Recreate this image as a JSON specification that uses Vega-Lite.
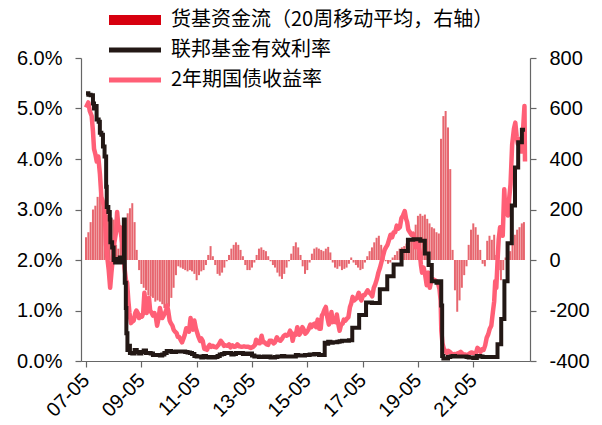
{
  "$schema": "https://vega.github.io/schema/vega-lite/v6.json",
  "width": 449,
  "height": 303,
  "autosize": {"type": "none"},
  "padding": {"left": 81, "top": 58, "right": 72, "bottom": 64},
  "background": "white",
  "config": {
    "view": {"stroke": null},
    "font": "Liberation Sans",
    "axis": {
      "grid": false,
      "title": null,
      "labelFont": "Liberation Sans",
      "labelFontSize": 20,
      "labelColor": "#000000",
      "domainColor": "#666666",
      "tickColor": "#666666",
      "domainWidth": 1.2,
      "tickWidth": 1.2,
      "tickSize": 6,
      "labelFlush": false,
      "labelOverlap": false,
      "labelBound": false
    }
  },
  "datasets": {
    "flow": [
      {"d": "2007-05-01", "v": 90}, {"d": "2007-06-01", "v": 110}, {"d": "2007-07-01", "v": 150}, {"d": "2007-08-01", "v": 200},
      {"d": "2007-09-01", "v": 215}, {"d": "2007-10-01", "v": 250}, {"d": "2007-11-01", "v": 262}, {"d": "2007-12-01", "v": 230},
      {"d": "2008-01-01", "v": 200}, {"d": "2008-02-01", "v": 180}, {"d": "2008-03-01", "v": 190}, {"d": "2008-04-01", "v": 165},
      {"d": "2008-05-01", "v": 160}, {"d": "2008-06-01", "v": 60}, {"d": "2008-07-01", "v": 45}, {"d": "2008-08-01", "v": 85},
      {"d": "2008-09-01", "v": 90}, {"d": "2008-10-01", "v": 160}, {"d": "2008-11-01", "v": 185}, {"d": "2008-12-01", "v": 205},
      {"d": "2009-01-01", "v": 225}, {"d": "2009-02-01", "v": 150}, {"d": "2009-03-01", "v": 40}, {"d": "2009-04-01", "v": -40},
      {"d": "2009-05-01", "v": -95}, {"d": "2009-06-01", "v": -110}, {"d": "2009-07-01", "v": -120}, {"d": "2009-08-01", "v": -140},
      {"d": "2009-09-01", "v": -145}, {"d": "2009-10-01", "v": -150}, {"d": "2009-11-01", "v": -165}, {"d": "2009-12-01", "v": -160},
      {"d": "2010-01-01", "v": -165}, {"d": "2010-02-01", "v": -175}, {"d": "2010-03-01", "v": -190}, {"d": "2010-04-01", "v": -200},
      {"d": "2010-05-01", "v": -185}, {"d": "2010-06-01", "v": -150}, {"d": "2010-07-01", "v": -110}, {"d": "2010-08-01", "v": -60},
      {"d": "2010-09-01", "v": -25}, {"d": "2010-10-01", "v": -30}, {"d": "2010-11-01", "v": -35}, {"d": "2010-12-01", "v": -40},
      {"d": "2011-01-01", "v": -45}, {"d": "2011-02-01", "v": -40}, {"d": "2011-03-01", "v": -45}, {"d": "2011-04-01", "v": -55},
      {"d": "2011-05-01", "v": -80}, {"d": "2011-06-01", "v": -60}, {"d": "2011-07-01", "v": -45}, {"d": "2011-08-01", "v": -40},
      {"d": "2011-09-01", "v": -20}, {"d": "2011-10-01", "v": 20}, {"d": "2011-11-01", "v": 55}, {"d": "2011-12-01", "v": 15},
      {"d": "2012-01-01", "v": -20}, {"d": "2012-02-01", "v": -55}, {"d": "2012-03-01", "v": -62}, {"d": "2012-04-01", "v": -50},
      {"d": "2012-05-01", "v": -30}, {"d": "2012-06-01", "v": -5}, {"d": "2012-07-01", "v": 20}, {"d": "2012-08-01", "v": 45},
      {"d": "2012-09-01", "v": 60}, {"d": "2012-10-01", "v": 70}, {"d": "2012-11-01", "v": 60}, {"d": "2012-12-01", "v": 40},
      {"d": "2013-01-01", "v": 15}, {"d": "2013-02-01", "v": -20}, {"d": "2013-03-01", "v": -40}, {"d": "2013-04-01", "v": -40},
      {"d": "2013-05-01", "v": -30}, {"d": "2013-06-01", "v": -10}, {"d": "2013-07-01", "v": 20}, {"d": "2013-08-01", "v": 45},
      {"d": "2013-09-01", "v": 50}, {"d": "2013-10-01", "v": 40}, {"d": "2013-11-01", "v": 35}, {"d": "2013-12-01", "v": 15},
      {"d": "2014-01-01", "v": -5}, {"d": "2014-02-01", "v": -20}, {"d": "2014-03-01", "v": -30}, {"d": "2014-04-01", "v": -50},
      {"d": "2014-05-01", "v": -65}, {"d": "2014-06-01", "v": -75}, {"d": "2014-07-01", "v": -55}, {"d": "2014-08-01", "v": -30},
      {"d": "2014-09-01", "v": -5}, {"d": "2014-10-01", "v": 25}, {"d": "2014-11-01", "v": 55}, {"d": "2014-12-01", "v": 70},
      {"d": "2015-01-01", "v": 50}, {"d": "2015-02-01", "v": 20}, {"d": "2015-03-01", "v": -25}, {"d": "2015-04-01", "v": -55},
      {"d": "2015-05-01", "v": -40}, {"d": "2015-06-01", "v": -10}, {"d": "2015-07-01", "v": 25}, {"d": "2015-08-01", "v": 45},
      {"d": "2015-09-01", "v": 50}, {"d": "2015-10-01", "v": 45}, {"d": "2015-11-01", "v": 40}, {"d": "2015-12-01", "v": 35},
      {"d": "2016-01-01", "v": 45}, {"d": "2016-02-01", "v": 52}, {"d": "2016-03-01", "v": 30}, {"d": "2016-04-01", "v": -10},
      {"d": "2016-05-01", "v": -30}, {"d": "2016-06-01", "v": -35}, {"d": "2016-07-01", "v": -25}, {"d": "2016-08-01", "v": -40},
      {"d": "2016-09-01", "v": -35}, {"d": "2016-10-01", "v": -30}, {"d": "2016-11-01", "v": -15}, {"d": "2016-12-01", "v": 10},
      {"d": "2017-01-01", "v": -10}, {"d": "2017-02-01", "v": -20}, {"d": "2017-03-01", "v": -30}, {"d": "2017-04-01", "v": -40},
      {"d": "2017-05-01", "v": -35}, {"d": "2017-06-01", "v": -10}, {"d": "2017-07-01", "v": 15}, {"d": "2017-08-01", "v": 35},
      {"d": "2017-09-01", "v": 50}, {"d": "2017-10-01", "v": 70}, {"d": "2017-11-01", "v": 88}, {"d": "2017-12-01", "v": 96},
      {"d": "2018-01-01", "v": 60}, {"d": "2018-02-01", "v": 20}, {"d": "2018-03-01", "v": -5}, {"d": "2018-04-01", "v": -15},
      {"d": "2018-05-01", "v": -10}, {"d": "2018-06-01", "v": 10}, {"d": "2018-07-01", "v": 20}, {"d": "2018-08-01", "v": 35},
      {"d": "2018-09-01", "v": 45}, {"d": "2018-10-01", "v": 50}, {"d": "2018-11-01", "v": 55}, {"d": "2018-12-01", "v": 65},
      {"d": "2019-01-01", "v": 70}, {"d": "2019-02-01", "v": 80}, {"d": "2019-03-01", "v": 95}, {"d": "2019-04-01", "v": 140},
      {"d": "2019-05-01", "v": 175}, {"d": "2019-06-01", "v": 183}, {"d": "2019-07-01", "v": 175}, {"d": "2019-08-01", "v": 180},
      {"d": "2019-09-01", "v": 163}, {"d": "2019-10-01", "v": 145}, {"d": "2019-11-01", "v": 130}, {"d": "2019-12-01", "v": 125},
      {"d": "2020-01-01", "v": 110}, {"d": "2020-02-01", "v": 105}, {"d": "2020-03-01", "v": 480}, {"d": "2020-04-01", "v": 570},
      {"d": "2020-05-01", "v": 590}, {"d": "2020-06-01", "v": 525}, {"d": "2020-07-01", "v": 360}, {"d": "2020-08-01", "v": 40},
      {"d": "2020-09-01", "v": -120}, {"d": "2020-10-01", "v": -205}, {"d": "2020-11-01", "v": -160}, {"d": "2020-12-01", "v": -110},
      {"d": "2021-01-01", "v": -60}, {"d": "2021-02-01", "v": -25}, {"d": "2021-03-01", "v": 60}, {"d": "2021-04-01", "v": 120},
      {"d": "2021-05-01", "v": 145}, {"d": "2021-06-01", "v": 130}, {"d": "2021-07-01", "v": 100}, {"d": "2021-08-01", "v": 40},
      {"d": "2021-09-01", "v": -15}, {"d": "2021-10-01", "v": -25}, {"d": "2021-11-01", "v": 76}, {"d": "2021-12-01", "v": 96},
      {"d": "2022-01-01", "v": 80}, {"d": "2022-02-01", "v": 100}, {"d": "2022-03-01", "v": 20}, {"d": "2022-04-01", "v": -40},
      {"d": "2022-05-01", "v": -80}, {"d": "2022-06-01", "v": -40}, {"d": "2022-07-01", "v": 10}, {"d": "2022-08-01", "v": 50},
      {"d": "2022-09-01", "v": 35}, {"d": "2022-10-01", "v": 60}, {"d": "2022-11-01", "v": 100}, {"d": "2022-12-01", "v": 120},
      {"d": "2023-01-01", "v": 130}, {"d": "2023-02-01", "v": 145}, {"d": "2023-03-01", "v": 150}
    ],
    "ff": [
      {"d": "2007-05-01", "r": 5.30}, {"d": "2007-06-01", "r": 5.27}, {"d": "2007-07-01", "r": 5.26}, {"d": "2007-08-01", "r": 5.10},
      {"d": "2007-08-15", "r": 5.00}, {"d": "2007-09-01", "r": 5.05}, {"d": "2007-09-18", "r": 4.78}, {"d": "2007-10-15", "r": 4.74},
      {"d": "2007-10-31", "r": 4.52}, {"d": "2007-11-20", "r": 4.48}, {"d": "2007-12-11", "r": 4.25}, {"d": "2008-01-01", "r": 4.05},
      {"d": "2008-01-22", "r": 3.45}, {"d": "2008-01-30", "r": 3.05}, {"d": "2008-02-20", "r": 2.95}, {"d": "2008-03-10", "r": 2.80},
      {"d": "2008-03-18", "r": 2.35}, {"d": "2008-04-10", "r": 2.25}, {"d": "2008-04-30", "r": 2.00}, {"d": "2008-05-20", "r": 1.95},
      {"d": "2008-06-10", "r": 2.02}, {"d": "2008-07-01", "r": 1.95}, {"d": "2008-07-20", "r": 2.05}, {"d": "2008-08-10", "r": 1.95},
      {"d": "2008-09-01", "r": 2.02}, {"d": "2008-09-12", "r": 2.80}, {"d": "2008-09-24", "r": 1.55}, {"d": "2008-10-08", "r": 1.05},
      {"d": "2008-10-15", "r": 0.55}, {"d": "2008-10-29", "r": 0.22}, {"d": "2008-11-15", "r": 0.30}, {"d": "2008-12-01", "r": 0.16},
      {"d": "2009-01-01", "r": 0.15}, {"d": "2009-02-01", "r": 0.22}, {"d": "2009-03-01", "r": 0.18}, {"d": "2009-04-01", "r": 0.15},
      {"d": "2009-05-01", "r": 0.18}, {"d": "2009-06-01", "r": 0.21}, {"d": "2009-07-01", "r": 0.16}, {"d": "2009-08-01", "r": 0.16},
      {"d": "2009-09-01", "r": 0.15}, {"d": "2009-10-01", "r": 0.12}, {"d": "2009-11-01", "r": 0.12}, {"d": "2009-12-01", "r": 0.12},
      {"d": "2010-01-01", "r": 0.11}, {"d": "2010-02-01", "r": 0.13}, {"d": "2010-03-01", "r": 0.16}, {"d": "2010-04-01", "r": 0.20},
      {"d": "2010-05-01", "r": 0.20}, {"d": "2010-06-01", "r": 0.18}, {"d": "2010-07-01", "r": 0.18}, {"d": "2010-08-01", "r": 0.19},
      {"d": "2010-09-01", "r": 0.19}, {"d": "2010-10-01", "r": 0.19}, {"d": "2010-11-01", "r": 0.19}, {"d": "2010-12-01", "r": 0.18},
      {"d": "2011-01-01", "r": 0.17}, {"d": "2011-02-01", "r": 0.16}, {"d": "2011-03-01", "r": 0.14}, {"d": "2011-04-01", "r": 0.10},
      {"d": "2011-05-01", "r": 0.09}, {"d": "2011-06-01", "r": 0.09}, {"d": "2011-07-01", "r": 0.07}, {"d": "2011-08-01", "r": 0.10},
      {"d": "2011-09-01", "r": 0.08}, {"d": "2011-10-01", "r": 0.07}, {"d": "2011-11-01", "r": 0.08}, {"d": "2011-12-01", "r": 0.07},
      {"d": "2012-01-01", "r": 0.08}, {"d": "2012-02-01", "r": 0.10}, {"d": "2012-03-01", "r": 0.13}, {"d": "2012-04-01", "r": 0.14},
      {"d": "2012-05-01", "r": 0.16}, {"d": "2012-06-01", "r": 0.16}, {"d": "2012-07-01", "r": 0.16}, {"d": "2012-08-01", "r": 0.13},
      {"d": "2012-09-01", "r": 0.14}, {"d": "2012-10-01", "r": 0.16}, {"d": "2012-11-01", "r": 0.16}, {"d": "2012-12-01", "r": 0.16},
      {"d": "2013-01-01", "r": 0.14}, {"d": "2013-02-01", "r": 0.15}, {"d": "2013-03-01", "r": 0.14}, {"d": "2013-04-01", "r": 0.15},
      {"d": "2013-05-01", "r": 0.11}, {"d": "2013-06-01", "r": 0.09}, {"d": "2013-07-01", "r": 0.09}, {"d": "2013-08-01", "r": 0.08},
      {"d": "2013-09-01", "r": 0.08}, {"d": "2013-10-01", "r": 0.09}, {"d": "2013-11-01", "r": 0.08}, {"d": "2013-12-01", "r": 0.09},
      {"d": "2014-01-01", "r": 0.07}, {"d": "2014-02-01", "r": 0.07}, {"d": "2014-03-01", "r": 0.08}, {"d": "2014-04-01", "r": 0.09},
      {"d": "2014-05-01", "r": 0.09}, {"d": "2014-06-01", "r": 0.10}, {"d": "2014-07-01", "r": 0.09}, {"d": "2014-08-01", "r": 0.09},
      {"d": "2014-09-01", "r": 0.09}, {"d": "2014-10-01", "r": 0.09}, {"d": "2014-11-01", "r": 0.09}, {"d": "2014-12-01", "r": 0.12},
      {"d": "2015-01-01", "r": 0.11}, {"d": "2015-02-01", "r": 0.11}, {"d": "2015-03-01", "r": 0.11}, {"d": "2015-04-01", "r": 0.12},
      {"d": "2015-05-01", "r": 0.12}, {"d": "2015-06-01", "r": 0.13}, {"d": "2015-07-01", "r": 0.13}, {"d": "2015-08-01", "r": 0.14},
      {"d": "2015-09-01", "r": 0.14}, {"d": "2015-10-01", "r": 0.12}, {"d": "2015-11-01", "r": 0.12}, {"d": "2015-12-17", "r": 0.36},
      {"d": "2016-01-01", "r": 0.34}, {"d": "2016-02-01", "r": 0.38}, {"d": "2016-03-01", "r": 0.36}, {"d": "2016-04-01", "r": 0.37},
      {"d": "2016-05-01", "r": 0.37}, {"d": "2016-06-01", "r": 0.38}, {"d": "2016-07-01", "r": 0.39}, {"d": "2016-08-01", "r": 0.40},
      {"d": "2016-09-01", "r": 0.40}, {"d": "2016-10-01", "r": 0.40}, {"d": "2016-11-01", "r": 0.41}, {"d": "2016-12-15", "r": 0.66},
      {"d": "2017-02-01", "r": 0.66}, {"d": "2017-03-16", "r": 0.91}, {"d": "2017-05-01", "r": 0.91}, {"d": "2017-06-15", "r": 1.16},
      {"d": "2017-09-01", "r": 1.15}, {"d": "2017-12-14", "r": 1.42}, {"d": "2018-03-22", "r": 1.68}, {"d": "2018-06-14", "r": 1.91},
      {"d": "2018-09-27", "r": 2.18}, {"d": "2018-12-20", "r": 2.40}, {"d": "2019-03-01", "r": 2.41}, {"d": "2019-06-01", "r": 2.38},
      {"d": "2019-08-01", "r": 2.13}, {"d": "2019-09-19", "r": 1.90}, {"d": "2019-10-31", "r": 1.58}, {"d": "2020-01-01", "r": 1.55},
      {"d": "2020-02-01", "r": 1.58}, {"d": "2020-03-04", "r": 1.10}, {"d": "2020-03-16", "r": 0.10}, {"d": "2020-04-01", "r": 0.05},
      {"d": "2020-06-01", "r": 0.08}, {"d": "2020-07-01", "r": 0.09}, {"d": "2020-08-01", "r": 0.10}, {"d": "2020-09-01", "r": 0.09},
      {"d": "2021-02-01", "r": 0.08}, {"d": "2021-03-01", "r": 0.07}, {"d": "2021-05-01", "r": 0.06}, {"d": "2021-06-17", "r": 0.10},
      {"d": "2021-08-01", "r": 0.09}, {"d": "2021-09-01", "r": 0.08}, {"d": "2022-03-17", "r": 0.33}, {"d": "2022-05-05", "r": 0.83},
      {"d": "2022-06-16", "r": 1.58}, {"d": "2022-07-28", "r": 2.33}, {"d": "2022-09-22", "r": 3.08}, {"d": "2022-11-03", "r": 3.83},
      {"d": "2022-12-15", "r": 4.33}, {"d": "2023-02-02", "r": 4.58}, {"d": "2023-03-15", "r": 4.58}
    ],
    "t2": [
      {"d": "2007-05-01", "r": 5.02}, {"d": "2007-06-01", "r": 5.12}, {"d": "2007-06-20", "r": 4.95}, {"d": "2007-07-15", "r": 4.85},
      {"d": "2007-08-01", "r": 4.55}, {"d": "2007-08-15", "r": 4.20}, {"d": "2007-09-01", "r": 4.10}, {"d": "2007-09-20", "r": 3.95},
      {"d": "2007-10-10", "r": 4.05}, {"d": "2007-11-01", "r": 3.70}, {"d": "2007-11-20", "r": 3.25}, {"d": "2007-12-10", "r": 3.15},
      {"d": "2008-01-01", "r": 3.05}, {"d": "2008-01-20", "r": 2.30}, {"d": "2008-02-10", "r": 2.00}, {"d": "2008-02-25", "r": 1.80},
      {"d": "2008-03-15", "r": 1.45}, {"d": "2008-04-01", "r": 1.75}, {"d": "2008-04-20", "r": 2.05}, {"d": "2008-05-10", "r": 2.35},
      {"d": "2008-06-01", "r": 2.55}, {"d": "2008-06-15", "r": 2.95}, {"d": "2008-07-05", "r": 2.60}, {"d": "2008-07-25", "r": 2.65},
      {"d": "2008-08-15", "r": 2.40}, {"d": "2008-09-05", "r": 2.20}, {"d": "2008-09-20", "r": 1.85}, {"d": "2008-10-10", "r": 1.60},
      {"d": "2008-10-25", "r": 1.55}, {"d": "2008-11-10", "r": 1.20}, {"d": "2008-11-25", "r": 0.95}, {"d": "2008-12-15", "r": 0.75},
      {"d": "2009-01-01", "r": 0.78}, {"d": "2009-01-20", "r": 0.80}, {"d": "2009-02-10", "r": 0.95}, {"d": "2009-02-25", "r": 1.00},
      {"d": "2009-03-15", "r": 0.95}, {"d": "2009-04-01", "r": 0.85}, {"d": "2009-04-20", "r": 0.90}, {"d": "2009-05-10", "r": 0.88},
      {"d": "2009-05-25", "r": 0.95}, {"d": "2009-06-10", "r": 1.35}, {"d": "2009-06-25", "r": 1.15}, {"d": "2009-07-10", "r": 0.95},
      {"d": "2009-07-25", "r": 1.05}, {"d": "2009-08-10", "r": 1.25}, {"d": "2009-08-25", "r": 1.00}, {"d": "2009-09-15", "r": 0.95},
      {"d": "2009-10-01", "r": 0.90}, {"d": "2009-10-20", "r": 0.95}, {"d": "2009-11-10", "r": 0.85}, {"d": "2009-11-25", "r": 0.70},
      {"d": "2009-12-15", "r": 0.85}, {"d": "2010-01-01", "r": 1.05}, {"d": "2010-01-15", "r": 0.95}, {"d": "2010-02-01", "r": 0.85},
      {"d": "2010-02-20", "r": 0.90}, {"d": "2010-03-10", "r": 0.95}, {"d": "2010-03-25", "r": 1.00}, {"d": "2010-04-05", "r": 1.10},
      {"d": "2010-04-20", "r": 1.00}, {"d": "2010-05-10", "r": 0.80}, {"d": "2010-05-25", "r": 0.75}, {"d": "2010-06-15", "r": 0.70},
      {"d": "2010-07-01", "r": 0.62}, {"d": "2010-07-20", "r": 0.58}, {"d": "2010-08-10", "r": 0.55}, {"d": "2010-08-25", "r": 0.48},
      {"d": "2010-09-15", "r": 0.47}, {"d": "2010-10-01", "r": 0.42}, {"d": "2010-10-20", "r": 0.37}, {"d": "2010-11-10", "r": 0.45},
      {"d": "2010-11-25", "r": 0.52}, {"d": "2010-12-15", "r": 0.65}, {"d": "2011-01-01", "r": 0.60}, {"d": "2011-01-20", "r": 0.58},
      {"d": "2011-02-10", "r": 0.85}, {"d": "2011-02-25", "r": 0.72}, {"d": "2011-03-15", "r": 0.62}, {"d": "2011-04-01", "r": 0.80},
      {"d": "2011-04-20", "r": 0.65}, {"d": "2011-05-10", "r": 0.55}, {"d": "2011-05-25", "r": 0.48}, {"d": "2011-06-15", "r": 0.40},
      {"d": "2011-07-01", "r": 0.45}, {"d": "2011-07-20", "r": 0.40}, {"d": "2011-08-10", "r": 0.24}, {"d": "2011-08-25", "r": 0.24},
      {"d": "2011-09-15", "r": 0.22}, {"d": "2011-10-01", "r": 0.28}, {"d": "2011-10-20", "r": 0.32}, {"d": "2011-11-10", "r": 0.28},
      {"d": "2011-12-01", "r": 0.30}, {"d": "2011-12-20", "r": 0.28}, {"d": "2012-01-15", "r": 0.27}, {"d": "2012-02-15", "r": 0.32},
      {"d": "2012-03-15", "r": 0.40}, {"d": "2012-04-05", "r": 0.36}, {"d": "2012-04-25", "r": 0.30}, {"d": "2012-05-15", "r": 0.31},
      {"d": "2012-06-10", "r": 0.30}, {"d": "2012-07-01", "r": 0.33}, {"d": "2012-07-20", "r": 0.27}, {"d": "2012-08-15", "r": 0.31},
      {"d": "2012-09-10", "r": 0.28}, {"d": "2012-10-01", "r": 0.29}, {"d": "2012-10-20", "r": 0.33}, {"d": "2012-11-15", "r": 0.29},
      {"d": "2012-12-15", "r": 0.28}, {"d": "2013-01-15", "r": 0.29}, {"d": "2013-02-15", "r": 0.28}, {"d": "2013-03-15", "r": 0.28},
      {"d": "2013-04-15", "r": 0.26}, {"d": "2013-05-15", "r": 0.28}, {"d": "2013-06-10", "r": 0.32}, {"d": "2013-06-25", "r": 0.42},
      {"d": "2013-07-15", "r": 0.36}, {"d": "2013-08-10", "r": 0.35}, {"d": "2013-09-05", "r": 0.50}, {"d": "2013-09-25", "r": 0.37},
      {"d": "2013-10-15", "r": 0.37}, {"d": "2013-11-10", "r": 0.33}, {"d": "2013-12-01", "r": 0.32}, {"d": "2013-12-20", "r": 0.40},
      {"d": "2014-01-15", "r": 0.40}, {"d": "2014-02-10", "r": 0.35}, {"d": "2014-03-01", "r": 0.37}, {"d": "2014-03-25", "r": 0.47},
      {"d": "2014-04-15", "r": 0.42}, {"d": "2014-05-10", "r": 0.40}, {"d": "2014-06-01", "r": 0.44}, {"d": "2014-06-20", "r": 0.49},
      {"d": "2014-07-15", "r": 0.52}, {"d": "2014-08-05", "r": 0.50}, {"d": "2014-08-25", "r": 0.52}, {"d": "2014-09-15", "r": 0.60},
      {"d": "2014-10-05", "r": 0.54}, {"d": "2014-10-20", "r": 0.40}, {"d": "2014-11-10", "r": 0.54}, {"d": "2014-12-01", "r": 0.52},
      {"d": "2014-12-20", "r": 0.67}, {"d": "2015-01-15", "r": 0.52}, {"d": "2015-02-05", "r": 0.57}, {"d": "2015-02-25", "r": 0.67},
      {"d": "2015-03-15", "r": 0.62}, {"d": "2015-04-05", "r": 0.54}, {"d": "2015-04-25", "r": 0.57}, {"d": "2015-05-15", "r": 0.62},
      {"d": "2015-06-10", "r": 0.72}, {"d": "2015-06-25", "r": 0.67}, {"d": "2015-07-15", "r": 0.72}, {"d": "2015-08-05", "r": 0.74},
      {"d": "2015-08-25", "r": 0.67}, {"d": "2015-09-15", "r": 0.82}, {"d": "2015-10-05", "r": 0.64}, {"d": "2015-10-25", "r": 0.64},
      {"d": "2015-11-10", "r": 0.90}, {"d": "2015-11-25", "r": 0.94}, {"d": "2015-12-15", "r": 1.02}, {"d": "2016-01-01", "r": 1.07},
      {"d": "2016-01-20", "r": 0.87}, {"d": "2016-02-10", "r": 0.72}, {"d": "2016-02-25", "r": 0.77}, {"d": "2016-03-15", "r": 0.97},
      {"d": "2016-04-01", "r": 0.77}, {"d": "2016-04-20", "r": 0.82}, {"d": "2016-05-10", "r": 0.77}, {"d": "2016-05-25", "r": 0.92},
      {"d": "2016-06-15", "r": 0.72}, {"d": "2016-07-01", "r": 0.60}, {"d": "2016-07-20", "r": 0.72}, {"d": "2016-08-10", "r": 0.74},
      {"d": "2016-08-25", "r": 0.82}, {"d": "2016-09-15", "r": 0.80}, {"d": "2016-10-05", "r": 0.84}, {"d": "2016-10-25", "r": 0.87},
      {"d": "2016-11-15", "r": 1.07}, {"d": "2016-12-01", "r": 1.14}, {"d": "2016-12-20", "r": 1.27}, {"d": "2017-01-10", "r": 1.20},
      {"d": "2017-01-25", "r": 1.22}, {"d": "2017-02-15", "r": 1.25}, {"d": "2017-03-10", "r": 1.35}, {"d": "2017-03-25", "r": 1.26},
      {"d": "2017-04-15", "r": 1.20}, {"d": "2017-05-05", "r": 1.30}, {"d": "2017-05-25", "r": 1.30}, {"d": "2017-06-15", "r": 1.35},
      {"d": "2017-07-05", "r": 1.40}, {"d": "2017-07-25", "r": 1.36}, {"d": "2017-08-15", "r": 1.33}, {"d": "2017-09-05", "r": 1.28},
      {"d": "2017-09-25", "r": 1.45}, {"d": "2017-10-15", "r": 1.52}, {"d": "2017-11-05", "r": 1.62}, {"d": "2017-11-25", "r": 1.75},
      {"d": "2017-12-15", "r": 1.84}, {"d": "2018-01-05", "r": 1.96}, {"d": "2018-01-25", "r": 2.08}, {"d": "2018-02-15", "r": 2.20},
      {"d": "2018-03-05", "r": 2.25}, {"d": "2018-03-25", "r": 2.30}, {"d": "2018-04-15", "r": 2.40}, {"d": "2018-05-05", "r": 2.50},
      {"d": "2018-05-25", "r": 2.45}, {"d": "2018-06-15", "r": 2.55}, {"d": "2018-07-05", "r": 2.55}, {"d": "2018-07-25", "r": 2.68},
      {"d": "2018-08-15", "r": 2.62}, {"d": "2018-09-05", "r": 2.65}, {"d": "2018-09-25", "r": 2.83}, {"d": "2018-10-15", "r": 2.88},
      {"d": "2018-11-08", "r": 2.97}, {"d": "2018-11-25", "r": 2.82}, {"d": "2018-12-10", "r": 2.75}, {"d": "2018-12-25", "r": 2.60},
      {"d": "2019-01-15", "r": 2.55}, {"d": "2019-02-05", "r": 2.50}, {"d": "2019-02-25", "r": 2.52}, {"d": "2019-03-15", "r": 2.45},
      {"d": "2019-03-28", "r": 2.25}, {"d": "2019-04-15", "r": 2.38}, {"d": "2019-05-05", "r": 2.30}, {"d": "2019-05-25", "r": 2.15},
      {"d": "2019-06-10", "r": 1.90}, {"d": "2019-06-25", "r": 1.75}, {"d": "2019-07-15", "r": 1.85}, {"d": "2019-08-05", "r": 1.70},
      {"d": "2019-08-25", "r": 1.50}, {"d": "2019-09-15", "r": 1.75}, {"d": "2019-10-05", "r": 1.45}, {"d": "2019-10-25", "r": 1.60},
      {"d": "2019-11-15", "r": 1.62}, {"d": "2019-12-10", "r": 1.60}, {"d": "2019-12-31", "r": 1.58}, {"d": "2020-01-20", "r": 1.55},
      {"d": "2020-02-10", "r": 1.42}, {"d": "2020-02-25", "r": 1.20}, {"d": "2020-03-05", "r": 0.60}, {"d": "2020-03-20", "r": 0.35},
      {"d": "2020-04-05", "r": 0.25}, {"d": "2020-04-25", "r": 0.20}, {"d": "2020-05-15", "r": 0.16}, {"d": "2020-06-05", "r": 0.20},
      {"d": "2020-06-25", "r": 0.18}, {"d": "2020-07-15", "r": 0.15}, {"d": "2020-08-05", "r": 0.12}, {"d": "2020-08-25", "r": 0.14},
      {"d": "2020-09-15", "r": 0.13}, {"d": "2020-10-05", "r": 0.15}, {"d": "2020-10-25", "r": 0.16}, {"d": "2020-11-15", "r": 0.18},
      {"d": "2020-12-05", "r": 0.15}, {"d": "2020-12-25", "r": 0.12}, {"d": "2021-01-15", "r": 0.13}, {"d": "2021-02-05", "r": 0.11},
      {"d": "2021-02-25", "r": 0.13}, {"d": "2021-03-15", "r": 0.15}, {"d": "2021-04-05", "r": 0.17}, {"d": "2021-04-25", "r": 0.16},
      {"d": "2021-05-15", "r": 0.15}, {"d": "2021-06-05", "r": 0.15}, {"d": "2021-06-25", "r": 0.26}, {"d": "2021-07-15", "r": 0.23},
      {"d": "2021-08-05", "r": 0.18}, {"d": "2021-08-25", "r": 0.23}, {"d": "2021-09-15", "r": 0.22}, {"d": "2021-10-05", "r": 0.31},
      {"d": "2021-10-25", "r": 0.46}, {"d": "2021-11-15", "r": 0.53}, {"d": "2021-12-05", "r": 0.64}, {"d": "2021-12-25", "r": 0.70},
      {"d": "2022-01-15", "r": 0.97}, {"d": "2022-02-01", "r": 1.18}, {"d": "2022-02-15", "r": 1.58}, {"d": "2022-03-01", "r": 1.45},
      {"d": "2022-03-15", "r": 1.90}, {"d": "2022-04-01", "r": 2.40}, {"d": "2022-04-20", "r": 2.65}, {"d": "2022-05-10", "r": 2.62},
      {"d": "2022-05-25", "r": 2.48}, {"d": "2022-06-14", "r": 3.40}, {"d": "2022-06-30", "r": 2.92}, {"d": "2022-07-15", "r": 3.13},
      {"d": "2022-08-01", "r": 2.88}, {"d": "2022-08-20", "r": 3.25}, {"d": "2022-09-05", "r": 3.50}, {"d": "2022-09-26", "r": 4.28},
      {"d": "2022-10-20", "r": 4.60}, {"d": "2022-11-07", "r": 4.72}, {"d": "2022-11-25", "r": 4.45}, {"d": "2022-12-10", "r": 4.30},
      {"d": "2022-12-28", "r": 4.40}, {"d": "2023-01-15", "r": 4.15}, {"d": "2023-02-01", "r": 4.15}, {"d": "2023-02-20", "r": 4.65},
      {"d": "2023-03-08", "r": 5.05}, {"d": "2023-03-15", "r": 3.95}
    ]
  },
  "layer": [
    {
      "data": {"name": "flow"},
      "mark": {"type": "bar", "width": 2, "opacity": 0.6},
      "encoding": {
        "x": {
          "field": "d",
          "type": "temporal",
          "scale": {
            "type": "utc",
            "domain": [
              {"year": 2007, "month": 5, "date": 1, "utc": true},
              {"year": 2023, "month": 3, "date": 15, "utc": true}
            ]
          },
          "axis": {
            "values": [
              {"year": 2007, "month": 5, "date": 1, "utc": true},
              {"year": 2009, "month": 5, "date": 1, "utc": true},
              {"year": 2011, "month": 5, "date": 1, "utc": true},
              {"year": 2013, "month": 5, "date": 1, "utc": true},
              {"year": 2015, "month": 5, "date": 1, "utc": true},
              {"year": 2017, "month": 5, "date": 1, "utc": true},
              {"year": 2019, "month": 5, "date": 1, "utc": true},
              {"year": 2021, "month": 5, "date": 1, "utc": true}
            ],
            "labelExpr": "utcFormat(datum.value, '%y-%m')",
            "labelAngle": -45,
            "labelAlign": "right",
            "labelBaseline": "middle",
            "labelPadding": 10
          }
        },
        "y": {
          "field": "v",
          "type": "quantitative",
          "scale": {"domain": [-400, 800], "nice": false, "zero": false},
          "axis": {
            "orient": "right",
            "values": [-400, -200, 0, 200, 400, 600, 800],
            "labelExpr": "'' + datum.value",
            "labelPadding": 13
          }
        },
        "color": {
          "datum": "flow",
          "type": "nominal",
          "scale": {"domain": ["flow", "ff", "t2"], "range": ["#d7000f", "#231815", "#ff5f76"]},
          "legend": {
            "title": null,
            "orient": "none",
            "legendX": 44,
            "legendY": -48,
            "direction": "vertical",
            "padding": 0,
            "labelFont": "Noto Sans CJK SC",
            "labelFontSize": 20,
            "labelColor": "#000000",
            "labelLimit": 0,
            "labelOffset": 26,
            "rowPadding": 10,
            "symbolSize": 100,
            "symbolOpacity": 1,
            "labelExpr": "datum.value === 'flow' ? '货基资金流（20周移动平均，右轴）' : datum.value === 'ff' ? '联邦基金有效利率' : '2年期国债收益率'",
            "encode": {
              "symbols": {
                "update": {
                  "shape": {"signal": "datum.value === 'flow' ? 'M-5.2,-1H5.2V1H-5.2Z' : 'M-5.2,0H5.2'"},
                  "fill": {"signal": "datum.value === 'flow' ? '#d7000f' : 'transparent'"},
                  "stroke": {"signal": "datum.value === 'flow' ? '#d7000f' : datum.value === 'ff' ? '#231815' : '#ff5f76'"},
                  "strokeWidth": {"signal": "datum.value === 'flow' ? 0 : 5"},
                  "opacity": {"value": 1}
                }
              }
            }
          }
        }
      }
    },
    {
      "layer": [
        {
          "data": {"name": "t2"},
          "mark": {"type": "line", "strokeWidth": 4.5, "strokeJoin": "round"},
          "encoding": {
            "x": {"field": "d", "type": "temporal"},
            "y": {
              "field": "r",
              "type": "quantitative",
              "scale": {"domain": [0, 6], "nice": false},
              "axis": {
                "orient": "left",
                "values": [0, 1, 2, 3, 4, 5, 6],
                "labelExpr": "format(datum.value, '.1f') + '%'",
                "labelPadding": 13
              }
            },
            "color": {"datum": "t2", "type": "nominal"}
          }
        },
        {
          "data": {"name": "ff"},
          "mark": {"type": "line", "strokeWidth": 4, "interpolate": "step-after"},
          "encoding": {
            "x": {"field": "d", "type": "temporal"},
            "y": {"field": "r", "type": "quantitative"},
            "color": {"datum": "ff", "type": "nominal"}
          }
        }
      ]
    }
  ],
  "resolve": {"scale": {"y": "independent"}}
}
